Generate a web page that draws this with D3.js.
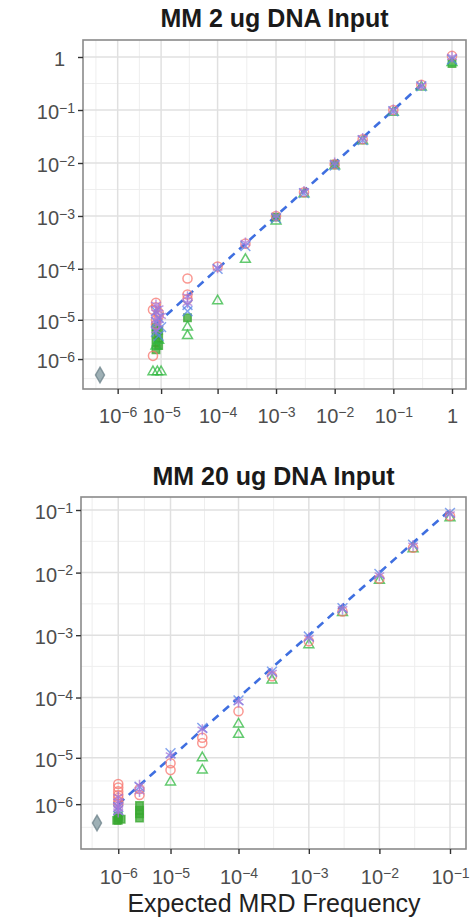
<!DOCTYPE html>
<html><head><meta charset="utf-8">
<script src="https://cdn.jsdelivr.net/npm/d3@7"></script>
<style>body{margin:0;background:#fff} svg{display:block}</style>
</head><body>
<script>
// ---------------- data ----------------
const titles = ["MM 2 ug DNA Input", "MM 20 ug DNA Input"];
const xAxisTitle = "Expected MRD Frequency";
const topTicks = [1e-6, 1e-5, 1e-4, 1e-3, 1e-2, 1e-1, 1];
const bottomTicks = [1e-6, 1e-5, 1e-4, 1e-3, 1e-2, 1e-1];

// [expected, observed]
const topZero = [[0, 0]];
const topCircle = [[8e-6,2.2e-5],[8e-6,1.8e-5],[7e-6,1.6e-5],[9e-6,1.4e-5],[9e-6,1.2e-5],[8e-6,1e-5],[8e-6,8e-6],[7e-6,1.3e-6],[3e-5,6.5e-5],[3e-5,3.2e-5],[3e-5,2.6e-5],[1e-4,1.1e-4],[3e-4,3e-4],[1e-3,1e-3],[3e-3,2.8e-3],[1e-2,9.5e-3],[3e-2,2.8e-2],[0.1,0.1],[0.3,0.3],[1,1.05]];
const topAsterisk = [[8e-6,2e-5],[9e-6,1.7e-5],[8e-6,1.4e-5],[1e-5,1.2e-5],[8e-6,1e-5],[9e-6,8e-6],[8e-6,6e-6],[3e-5,2.9e-5],[3e-5,2.2e-5],[1e-4,1.05e-4],[3e-4,3.1e-4],[1e-3,1e-3],[3e-3,2.9e-3],[1e-2,1e-2],[3e-2,2.9e-2],[0.1,0.1],[0.3,0.29],[1,1]];
const topCross = [[8e-6,1.5e-5],[9e-6,1.1e-5],[8e-6,9e-6],[1e-5,7e-6],[8e-6,5.5e-6],[9e-6,4.5e-6],[3e-5,2e-5],[3e-5,1.5e-5],[1e-4,1e-4],[3e-4,2.7e-4],[1e-3,9e-4],[3e-3,2.7e-3],[1e-2,9e-3],[3e-2,2.7e-2],[0.1,9.5e-2],[0.3,0.28],[1,0.9]];
const topTriangle = [[7e-6,1.5e-7],[1e-5,1.5e-7],[8.5e-6,1.5e-7],[8e-6,2.5e-6],[9e-6,3.5e-6],[3e-5,4.5e-6],[3e-5,7e-6],[1e-4,2.4e-5],[3e-4,1.5e-4],[1e-3,8e-4],[3e-3,2.6e-3],[1e-2,8.8e-3],[3e-2,2.6e-2],[0.1,9e-2],[0.3,0.27],[1,0.78]];
const topSquare = [[8e-6,7e-6],[9e-6,6e-6],[8e-6,5e-6],[9e-6,4e-6],[8e-6,3.2e-6],[9e-6,2.6e-6],[8e-6,2e-6],[3e-5,1.1e-5],[1e-3,9.5e-4],[1e-2,9.5e-3],[1,0.75]];
const topFitLine = [8e-6, 0.3];

const bottomZero = [[0, 0]];
const bottomCircle = [[1e-6,3.2e-6],[1e-6,2.7e-6],[1e-6,2.2e-6],[1e-6,1.8e-6],[1e-6,1.5e-6],[1e-6,1.2e-6],[1e-6,1e-6],[3e-6,2.5e-6],[3e-6,1.8e-6],[1e-5,8e-6],[1e-5,6e-6],[3e-5,2.2e-5],[3e-5,1.8e-5],[1e-4,6e-5],[3e-4,2.2e-4],[1e-3,8e-4],[3e-3,2.4e-3],[1e-2,8e-3],[3e-2,2.5e-2],[0.1,8e-2]];
const bottomAsterisk = [[1e-6,1.6e-6],[1e-6,1.2e-6],[1e-6,9e-7],[1e-6,7e-7],[1e-6,5e-7],[3e-6,3e-6],[3e-6,2.2e-6],[1e-5,1.1e-5],[3e-5,3e-5],[1e-4,8.5e-5],[3e-4,2.5e-4],[1e-3,9e-4],[3e-3,2.6e-3],[1e-2,9e-3],[3e-2,2.7e-2],[0.1,8.5e-2]];
const bottomCross = [[1e-6,8e-7],[1e-6,6e-7],[3e-6,2.8e-6],[1e-5,1.2e-5],[3e-5,3.2e-5],[1e-4,9e-5],[3e-4,2.6e-4],[1e-3,9.5e-4],[3e-3,2.7e-3],[1e-2,9.5e-3],[3e-2,2.8e-2],[0.1,9e-2]];
const bottomTriangle = [[1e-5,3.5e-6],[3e-5,1e-5],[3e-5,6e-6],[1e-4,3.7e-5],[1e-4,2.5e-5],[3e-4,1.9e-4],[1e-3,7e-4],[3e-3,2.3e-3],[1e-2,7.5e-3],[3e-2,2.4e-2],[0.1,7.5e-2]];
const bottomSquare = [[3e-6,9e-7],[3e-6,6e-7],[3e-6,4e-7],[3e-6,2e-7],[1e-6,3e-7],[1e-6,2e-7],[1e-6,1e-7],[1.2e-6,1.5e-7],[0.9e-6,1e-7]];
const bottomFitLine = [1e-6, 0.1];

// ---------------- layout ----------------
const W = 471, H = 921;
const svg = d3.select("body").append("svg").attr("width", W).attr("height", H);
const FONT = "'Liberation Sans', Arial, Helvetica, sans-serif";

const styles = {
  zero:     {sym: d3.symbolDiamond, size: 70, fill: "#7d959c", stroke: "#6b8088", fillOn: true},
  circle:   {sym: d3.symbolCircle, size: 65, stroke: "#F8766D"},
  triangle: {sym: d3.symbolTriangle2, size: 70, stroke: "#2fb83f"},
  square:   {sym: d3.symbolSquare, size: 55, fill: "#3aa832", stroke: "#3aa832", fillOn: true},
  cross:    {sym: d3.symbolTimes, size: 65, stroke: "#5b86e8"},
  asterisk: {sym: d3.symbolAsterisk, size: 85, stroke: "#a777d8"}
};

function supLabel(sel, v) {
  sel.text(null);
  if (v === 1) { sel.append("tspan").text("1"); return; }
  const e = Math.round(Math.log10(v));
  sel.append("tspan").text("10");
  sel.append("tspan").attr("dy", "-0.45em").attr("font-size", "14px").text("\u2212" + Math.abs(e));
}

function panel(cfg) {
  const g = svg.append("g");
  const x = d3.scaleSymlog().constant(1e-6).domain(cfg.xDom).range(cfg.xRange);
  const y = d3.scaleSymlog().constant(1e-6).domain(cfg.yDom).range(cfg.yRange);
  const [L, R, T, B] = cfg.box;

  const xs = cfg.ticks.map(x), ys = cfg.ticks.map(y);
  const xMinor = d3.pairs(xs).map(([a, b]) => (a + b) / 2);
  const yMinor = d3.pairs(ys).map(([a, b]) => (a + b) / 2);
  xMinor.unshift(xs[0] - (xMinor[0] - xs[0]));
  yMinor.unshift(ys[0] + (ys[0] - yMinor[0]));
  g.selectAll(".xm").data(xMinor.filter(p => p > L && p < R)).join("line")
    .attr("x1", d => d).attr("x2", d => d).attr("y1", T).attr("y2", B)
    .attr("stroke", "#eeeeee").attr("stroke-width", 1);
  g.selectAll(".ym").data(yMinor.filter(p => p > T && p < B)).join("line")
    .attr("y1", d => d).attr("y2", d => d).attr("x1", L).attr("x2", R)
    .attr("stroke", "#eeeeee").attr("stroke-width", 1);
  g.selectAll(".xg").data(cfg.ticks).join("line")
    .attr("x1", d => x(d)).attr("x2", d => x(d)).attr("y1", T).attr("y2", B)
    .attr("stroke", "#e0e0e0").attr("stroke-width", 1.5);
  g.selectAll(".yg").data(cfg.ticks).join("line")
    .attr("y1", d => y(d)).attr("y2", d => y(d)).attr("x1", L).attr("x2", R)
    .attr("stroke", "#e0e0e0").attr("stroke-width", 1.5);

  const lv = cfg.fit;
  g.append("line")
    .attr("x1", x(lv[0])).attr("y1", y(lv[0])).attr("x2", x(lv[1])).attr("y2", y(lv[1]))
    .attr("stroke", "#3f6fe0").attr("stroke-width", 2.6).attr("stroke-dasharray", "8,6");

  cfg.series.forEach(([name, data]) => {
    const s = styles[name];
    g.selectAll(null).data(data).join("path")
      .attr("d", d3.symbol().type(s.sym).size(s.size))
      .attr("transform", d => `translate(${x(d[0])},${y(d[1])})`)
      .attr("fill", s.fillOn ? s.fill : "none")
      .attr("fill-opacity", 0.75)
      .attr("stroke", s.stroke).attr("stroke-width", 1.5).attr("stroke-opacity", 0.75);
  });

  g.append("rect").attr("x", L).attr("y", T).attr("width", R - L).attr("height", B - T)
    .attr("fill", "none").attr("stroke", "#8a8a8a").attr("stroke-width", 1.6);

  const ax = g.append("g").attr("transform", `translate(0,${B})`)
    .call(d3.axisBottom(x).tickValues(cfg.ticks).tickSize(5).tickFormat(() => ""));
  ax.select(".domain").remove();
  ax.selectAll(".tick line").attr("stroke", "#333").attr("stroke-width", 1.4);
  ax.selectAll(".tick text").attr("dy", null).attr("y", cfg.xLabY)
    .attr("font-size", "20px").attr("font-family", FONT).attr("fill", "#4d4d4d")
    .each(function(d) { supLabel(d3.select(this), d); });

  const ay = g.append("g").attr("transform", `translate(${L},0)`)
    .call(d3.axisLeft(y).tickValues(cfg.ticks).tickSize(5).tickPadding(3).tickFormat(() => ""));
  ay.select(".domain").remove();
  ay.selectAll(".tick line").attr("stroke", "#333").attr("stroke-width", 1.4);
  ay.selectAll(".tick text").attr("dy", "0.42em")
    .attr("font-size", "20px").attr("font-family", FONT).attr("fill", "#4d4d4d")
    .each(function(d) { supLabel(d3.select(this), d); if (d === 1) d3.select(this).attr("x", -18); });

  svg.append("text").attr("x", (L + R) / 2).attr("y", cfg.titleY)
    .attr("text-anchor", "middle").attr("font-family", FONT).attr("font-weight", "bold")
    .attr("font-size", "25px").attr("fill", "#1a1a1a").text(cfg.title);
}

panel({
  title: titles[0], titleY: 27,
  box: [83, 466, 40, 389],
  xDom: [0, 1], xRange: [100, 452],
  yDom: [0, 1], yRange: [375, 57],
  ticks: topTicks, xLabY: 34, fit: topFitLine,
  series: [["zero", topZero], ["square", topSquare], ["triangle", topTriangle], ["circle", topCircle], ["cross", topCross], ["asterisk", topAsterisk]]
});

panel({
  title: titles[1], titleY: 485,
  box: [81, 466, 497, 849],
  xDom: [0, 0.1], xRange: [97, 450],
  yDom: [0, 0.1], yRange: [823, 510],
  ticks: bottomTicks, xLabY: 35, fit: bottomFitLine,
  series: [["zero", bottomZero], ["square", bottomSquare], ["triangle", bottomTriangle], ["circle", bottomCircle], ["cross", bottomCross], ["asterisk", bottomAsterisk]]
});

svg.append("text").attr("x", 274).attr("y", 912).attr("text-anchor", "middle")
  .attr("font-family", FONT).attr("font-size", "25px").attr("fill", "#222").text(xAxisTitle);
</script>
</body></html>
